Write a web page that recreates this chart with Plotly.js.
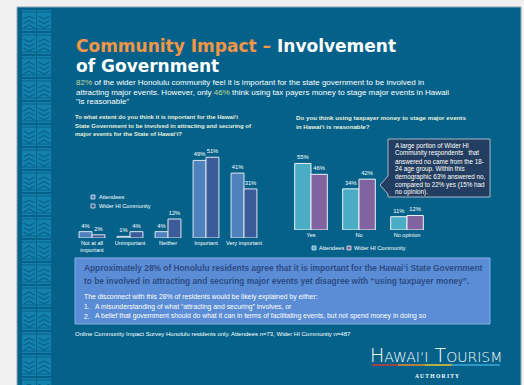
<!DOCTYPE html>
<html>
<head>
<meta charset="utf-8">
<script src="https://cdn.plot.ly/plotly-3.0.1.min.js"></script>
<style>html,body{margin:0;padding:0;background:#f0f0f0;}#chart{width:524px;height:385px;}</style>
</head>
<body>
<div id="chart"></div>
<script>
// ---- data ----
const seriesNames = ['Attendees', 'Wider HI Community'];
const importanceCats = ['Not at all<br>important', 'Unimportant', 'Neither', 'Important', 'Very important'];
const importanceAttendees = [4, 1, 4, 49, 41];
const importanceWider = [2, 4, 12, 51, 31];
const taxCats = ['Yes', 'No', 'No opinion'];
const taxAttendees = [55, 34, 11];
const taxWider = [46, 42, 12];

// ---- helpers ----
const W = 524, H = 385;
const X = x => x / W, Y = y => 1 - y / H;
const SANS = 'Liberation Sans, Arial, sans-serif';
const BG = '#04628a';
const C = {
  leftA: '#4f81bd', leftW: '#3b5c98',
  rightA: '#4bacc6', rightW: '#8064a2',
  green: '#c4d79b', orange: '#f79646', question: '#e8efdc'
};

function txt(x, y, text, size, color, extra) {
  return Object.assign({
    xref: 'paper', yref: 'paper', x: X(x), y: Y(y), text: text, showarrow: false,
    xanchor: 'left', yanchor: 'middle',
    font: {size: size, color: color, family: SANS}
  }, extra || {});
}
function rect(x0, y0, x1, y1, fill, line, lw, layer) {
  return {type: 'rect', xref: 'paper', yref: 'paper', x0: X(x0), x1: X(x1), y0: Y(y1), y1: Y(y0),
    fillcolor: fill, line: {color: line || fill, width: lw === undefined ? 0 : lw}, layer: layer || 'below'};
}
function path(pts, fill, line, lw, layer, closed) {
  let d = pts.map((p, i) => (i ? 'L' : 'M') + X(p[0]) + ',' + Y(p[1])).join(' ') + (closed ? ' Z' : '');
  return {type: 'path', xref: 'paper', yref: 'paper', path: d, fillcolor: fill || 'rgba(0,0,0,0)',
    line: {color: line || 'rgba(0,0,0,0)', width: lw || 0}, layer: layer || 'below'};
}

const shapes = [];
// slide background
shapes.push(rect(17, 7, 521, 390, BG, '#8fa9b8', 1));
// decorative left pattern
for (let col = 0; col < 2; col++) {
  const x0 = col === 0 ? 22 : 37, x1 = x0 + 14;
  let k = 0;
  for (let y = 10; y < 390; y += 23, k++) {
    shapes.push(rect(x0, y, x1, y + 21, '#1481ad'));
    shapes.push(path([[x0, y + 2], [x1, y + 2]], null, BG, 1));
    shapes.push(path([[x0, y + 19], [x1, y + 19]], null, BG, 1));
    const up = (col + k) % 2 === 0;
    for (let c = 0; c < 3; c++) {
      const yy = y + 6 + c * 4.5;
      const mid = (x0 + x1) / 2;
      if (up) shapes.push(path([[x0 + 1.5, yy + 3], [mid, yy], [x1 - 1.5, yy + 3]], null, BG, 1.1));
      else shapes.push(path([[x0 + 1.5, yy], [mid, yy + 3], [x1 - 1.5, yy]], null, BG, 1.1));
    }
  }
}
// callout box with pointer
shapes.push(path([[388, 139], [490, 139], [490, 197], [388, 197], [388, 194], [380, 185], [388, 176]], '#233e60', '#aab7c6', 1, 'above', true));
// summary box
shapes.push(rect(75, 258, 490, 324, '#5a8dd5', '#86aee4', 1));
// legend squares
shapes.push(rect(91, 195, 95, 199, C.leftA, '#e6e6e6', 0.8, 'above'));
shapes.push(rect(91, 204, 95, 208, C.leftW, '#e6e6e6', 0.8, 'above'));
shapes.push(rect(312, 246, 316, 250, C.rightA, '#e6e6e6', 0.8, 'above'));
shapes.push(rect(347, 246, 351, 250, C.rightW, '#e6e6e6', 0.8, 'above'));
// logo underline
shapes.push(path([[372, 365], [398, 365]], null, '#d23a2c', 1.5, 'above'));
shapes.push(path([[398, 365], [425, 365]], null, '#ee8a22', 1.5, 'above'));
shapes.push(path([[425, 365], [452, 365]], null, '#f2c72a', 1.5, 'above'));
shapes.push(path([[452, 365], [500, 365]], null, '#3aa9d8', 1.5, 'above'));

const hl = s => '<span style="color:' + C.green + '">' + s + '</span>';
const annotations = [
  txt(74, 46, '<b><span style="color:' + C.orange + '">Community Impact – </span>Involvement</b>', 17, '#ffffff', {font: {size: 17, color: '#ffffff', family: 'DejaVu Sans, Verdana, sans-serif'}}),
  txt(74, 65.5, '<b>of Government</b>', 17, '#ffffff', {font: {size: 17, color: '#ffffff', family: 'DejaVu Sans, Verdana, sans-serif'}}),
  txt(74, 83, hl('82%') + ' of the wider Honolulu community feel it is important for the state government to be involved in', 8, '#ffffff'),
  txt(74, 92.5, 'attracting major events. However, only ' + hl('46%') + ' think using tax payers money to stage major events in Hawaii', 8, '#ffffff'),
  txt(74, 102, '"is reasonable"', 8, '#ffffff'),
  // left question
  txt(73, 117, '<b>To what extent do you think it is important for the Hawai‘i</b>', 6.0, C.question),
  txt(73, 125.5, '<b>State Government to be involved in attracting and securing of</b>', 6.0, C.question),
  txt(73, 134, '<b>major events for the State of Hawai‘i?</b>', 6.0, C.question),
  // right question
  txt(294, 117, '<b>Do you think using taxpayer money to stage major events</b>', 6.2, C.question),
  txt(294, 126, '<b>in Hawai‘i is reasonable?</b>', 6.2, C.question),
  // legends
  txt(97, 197, seriesNames[0], 5.6, '#ffffff'),
  txt(97, 206, seriesNames[1], 5.6, '#ffffff'),
  txt(317, 248, seriesNames[0], 5.6, '#ffffff'),
  txt(352, 248, seriesNames[1], 5.6, '#ffffff'),
  // summary box
  txt(82, 268, '<b>Approximately 28% of Honolulu residents agree that it is important for the Hawai‘i State Government</b>', 8.35, '#2d4c85'),
  txt(82, 280.5, '<b>to be involved in attracting and securing major events yet disagree with “using taxpayer money”.</b>', 8.35, '#2d4c85'),
  txt(82, 297, 'The disconnect with this 28% of residents would be likely explained by either:', 6.85, '#ffffff'),
  txt(82, 306.5, '1.', 6.85, '#ffffff'),
  txt(93, 306.5, 'A misunderstanding of what “attracting and securing” involves, or', 6.85, '#ffffff'),
  txt(82, 316, '2.', 6.85, '#ffffff'),
  txt(93, 316, 'A belief that government should do what it can in terms of facilitating events, but not spend money in doing so', 6.85, '#ffffff'),
  // footnote
  txt(73, 334, 'Online Community Impact Survey Honolulu residents only. Attendees n=73, Wider HI Community n=487', 6.0, '#ffffff'),
  // logo
  txt(436, 355, 'H<span style="font-size:14px">AWAI‘I</span> T<span style="font-size:14px">OURISM</span>', 19, '#ffffff',
    {xanchor: 'center', font: {size: 19, color: '#ffffff', family: 'DejaVu Sans ExtraLight, DejaVu Sans Light, DejaVu Sans Condensed, sans-serif', weight: 200}}),
  txt(437, 376, '<b>A U T H O R I T Y</b>', 5.5, '#ffffff', {xanchor: 'center', font: {size: 5.5, color: '#ffffff', family: 'Liberation Serif, serif'}})
];
// callout text
const calloutLines = ['A large portion of Wider HI', 'Community respondents   that', 'answered no came from the 18-',
  '24 age group. Within this', 'demographic 63% answered no,', 'compared to 22% yes (15% had', 'no opinion).'];
calloutLines.forEach((s, i) => annotations.push(txt(393, 145.5 + i * 7.8, s, 6.3, '#ffffff')));

const barText = {texttemplate: '%{y}%', textposition: 'outside', cliponaxis: false, constraintext: 'none',
  textfont: {size: 5.8, color: '#ffffff', family: SANS}, hoverinfo: 'none', showlegend: false};
const traces = [
  Object.assign({type: 'bar', name: seriesNames[0], x: importanceCats, y: importanceAttendees, xaxis: 'x', yaxis: 'y',
    marker: {color: C.leftA, line: {color: '#dfe5ee', width: 1}}}, barText),
  Object.assign({type: 'bar', name: seriesNames[1], x: importanceCats, y: importanceWider, xaxis: 'x', yaxis: 'y',
    marker: {color: C.leftW, line: {color: '#dfe5ee', width: 1}}}, barText),
  Object.assign({type: 'bar', name: seriesNames[0], x: taxCats, y: taxAttendees, xaxis: 'x2', yaxis: 'y2',
    marker: {color: C.rightA, line: {color: '#eef2f6', width: 1}}}, barText),
  Object.assign({type: 'bar', name: seriesNames[1], x: taxCats, y: taxWider, xaxis: 'x2', yaxis: 'y2',
    marker: {color: C.rightW, line: {color: '#eef2f6', width: 1}}}, barText)
];

const xCommon = {type: 'category', showgrid: false, zeroline: false, showline: false, ticks: '', fixedrange: true,
  tickfont: {size: 5.6, color: '#ffffff', family: SANS}, ticklen: 0};
const yCommon = {range: [0, 60], showgrid: false, zeroline: false, showline: false, showticklabels: false, ticks: '', fixedrange: true};

const layout = {
  width: W, height: H, margin: {l: 0, r: 0, t: 0, b: 0},
  paper_bgcolor: '#f0f0f0', plot_bgcolor: 'rgba(0,0,0,0)',
  showlegend: false, barmode: 'group', bargap: 0.32, bargroupgap: 0,
  xaxis: Object.assign({}, xCommon, {domain: [X(73), X(263)], anchor: 'y'}),
  yaxis: Object.assign({}, yCommon, {domain: [Y(238), Y(143)], anchor: 'x'}),
  xaxis2: Object.assign({}, xCommon, {domain: [X(287), X(431)], anchor: 'y2'}),
  yaxis2: Object.assign({}, yCommon, {domain: [Y(230), Y(157.4)], anchor: 'x2'}),
  shapes: shapes, annotations: annotations
};
Plotly.newPlot('chart', traces, layout, {displayModeBar: false, staticPlot: true});
</script>
</body>
</html>
